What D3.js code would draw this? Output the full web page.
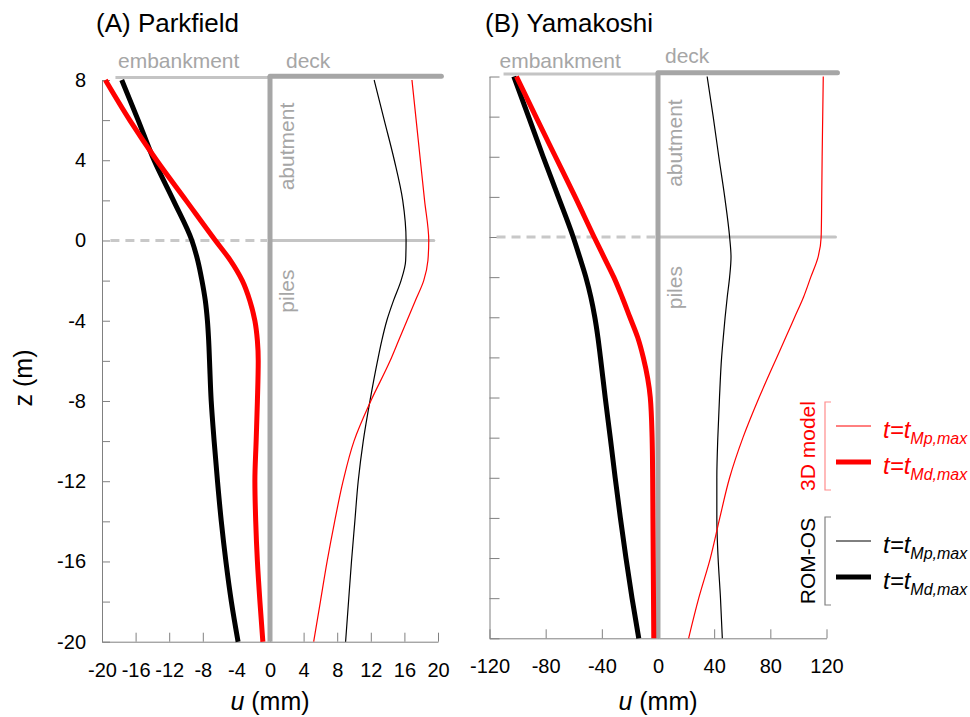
<!DOCTYPE html>
<html>
<head>
<meta charset="utf-8">
<script src="https://cdn.jsdelivr.net/npm/d3@7"></script>
<style>
body { margin: 0; background: #fff; }
svg { display: block; font-family: Arial, "Liberation Sans", sans-serif; }
.axis path, .axis line { stroke: #808080; stroke-width: 1; }
.axis text { font-size: 20px; fill: #000; font-family: Arial, "Liberation Sans", sans-serif; }
.struct-label { font-size: 21px; fill: #a6a6a6; }
</style>
</head>
<body>
<svg id="chart" width="970" height="717"></svg>
<script>
// depth below deck level (m), shared by all profiles
var depth = [8, 6, 4, 2, 0, -1, -2, -3, -4, -5, -6, -8, -10, -12, -14, -16, -18, -20];

// (A) Parkfield, u in mm
var parkRomMp = [12.4, 13.6, 14.8, 15.8, 16.2, 16.15, 15.6, 14.7, 13.9, 13.3, 12.8, 11.9, 11.1, 10.5, 10.1, 9.7, 9.35, 9.0];
var parkRomMd = [-17.65, -15.7, -13.8, -11.5, -9.3, -8.6, -8.1, -7.7, -7.45, -7.3, -7.2, -7.0, -6.65, -6.25, -5.8, -5.25, -4.6, -3.8];
var park3dMp = [16.9, 17.4, 17.9, 18.4, 18.9, 18.8, 18.3, 17.3, 16.3, 15.3, 14.3, 12.0, 10.0, 8.7, 7.7, 6.8, 6.0, 5.2];
var park3dMd = [-19.6, -16.7, -13.5, -10.0, -6.5, -4.7, -3.3, -2.4, -1.8, -1.5, -1.4, -1.5, -1.65, -1.8, -1.7, -1.5, -1.2, -0.85];

// (B) Yamakoshi, u in mm
var yamaRomMp = [35, 39.3, 43.3, 47.5, 51, 52, 51, 49.3, 47.8, 46.5, 45.3, 43.8, 42.6, 41.9, 41.9, 42.8, 44.5, 45.8];
var yamaRomMd = [-102.7, -92.2, -81.8, -71, -60.4, -55.8, -51.4, -47.8, -45, -42.8, -41, -37.6, -34, -30.5, -26.8, -22.8, -18.5, -13.7];
var yama3dMp = [117.7, 117.3, 116.9, 116.6, 116.2, 114, 108.8, 103.6, 97.3, 91, 84.6, 72, 60.5, 51, 44, 37.3, 29, 21.8];
var yama3dMd = [-100.8, -87, -73, -59, -45.5, -38.5, -31.5, -25.5, -20, -14.5, -10.5, -5.5, -4.2, -3.8, -3.6, -3.4, -3.2, -3.0];

var titles = ["(A) Parkfield", "(B) Yamakoshi"];
var xTicksA = [-20, -16, -12, -8, -4, 0, 4, 8, 12, 16, 20];
var xTicksB = [-120, -80, -40, 0, 40, 80, 120];
var zTicks = [-20, -18, -16, -14, -12, -10, -8, -6, -4, -2, 0, 2, 4, 6, 8];

var legendGroups = ["3D model", "ROM-OS"];
var legendSubs = ["Mp,max", "Md,max"];

var svg = d3.select("#chart");

var panels = [
    { title: titles[0], xDomain: [-20, 20], xTicks: xTicksA, x0: 102, x1: 438, y0: 80, y1: 641.7,
      series: [parkRomMp, park3dMp, parkRomMd, park3dMd], labels: true, titleX: 96,
      embStart: -18.4, deckEnd: 20.4, zeroEnd: 19.5, dashStart: -19, embText: -18.1, deckText: 16, deckTextY: 68, tick: 8 },
    { title: titles[1], xDomain: [-120, 120], xTicks: xTicksB, x0: 489.5, x1: 826.5, y0: 76.5, y1: 638.3,
      series: [yamaRomMp, yama3dMp, yamaRomMd, yama3dMd], labels: false, titleX: 485,
      embStart: -110, deckEnd: 127.8, zeroEnd: 126.4, dashStart: -115, embText: -112.9, deckText: 7, deckTextY: 63, tick: 10 }
];

var styles = [
    { color: "#000", width: 1.2 },
    { color: "#ff0000", width: 1.2 },
    { color: "#000", width: 5 },
    { color: "#ff0000", width: 5 }
];

panels.forEach(function(p) {
    var x = d3.scaleLinear().domain(p.xDomain).range([p.x0, p.x1]);
    var y = d3.scaleLinear().domain([-20, 8]).range([p.y1, p.y0]);
    var g = svg.append("g");

    // title
    svg.append("text")
        .attr("x", p.titleX)
        .attr("y", 32)
        .style("font-size", "26px")
        .text(p.title);

    // axes
    g.append("g")
        .attr("class", "axis")
        .attr("transform", "translate(" + p.x0 + ",0)")
        .call(d3.axisLeft(y).tickValues(zTicks).tickSize(-p.tick).tickSizeOuter(0).tickPadding(16)
            .tickFormat(function(d) { return p.labels && d % 4 === 0 ? String(d) : ""; }));

    g.append("g")
        .attr("class", "axis")
        .attr("transform", "translate(0," + p.y1 + ")")
        .call(d3.axisBottom(x).tickValues(p.xTicks).tickSize(-9).tickSizeOuter(0).tickPadding(21)
            .tickFormat(function(d) { return String(d); }));

    var ux = svg.append("text")
        .attr("x", x(0))
        .attr("y", 710)
        .attr("text-anchor", "middle")
        .style("font-size", "25px");
    ux.append("tspan").style("font-style", "italic").text("u");
    ux.append("tspan").text(" (mm)");

    // structure: embankment, deck, abutment, ground level
    var zEmb = 8.13, zDeck = 8.19;
    g.append("line")
        .attr("x1", x(p.embStart)).attr("x2", x(0))
        .attr("y1", y(zEmb)).attr("y2", y(zEmb))
        .attr("stroke", "#c4c4c4").attr("stroke-width", 3);
    g.append("line")
        .attr("x1", x(p.dashStart)).attr("x2", x(0) - 3)
        .attr("y1", y(0)).attr("y2", y(0))
        .attr("stroke", "#c8c8c8").attr("stroke-width", 3)
        .attr("stroke-dasharray", "9,6");
    g.append("line")
        .attr("x1", x(0)).attr("x2", x(p.zeroEnd))
        .attr("y1", y(0)).attr("y2", y(0))
        .attr("stroke", "#c4c4c4").attr("stroke-width", 3)
        .attr("stroke-linecap", "round");
    g.append("line")
        .attr("x1", x(0)).attr("x2", x(p.deckEnd))
        .attr("y1", y(zDeck)).attr("y2", y(zDeck))
        .attr("stroke", "#a6a6a6").attr("stroke-width", 5)
        .attr("stroke-linecap", "round");
    g.append("line")
        .attr("x1", x(0)).attr("x2", x(0))
        .attr("y1", y(zDeck)).attr("y2", p.y1)
        .attr("stroke", "#a6a6a6").attr("stroke-width", 5);

    g.append("text").attr("class", "struct-label")
        .attr("x", x(p.embText)).attr("y", 68)
        .text("embankment");
    g.append("text").attr("class", "struct-label")
        .attr("x", x(0) + p.deckText).attr("y", p.deckTextY)
        .text("deck");
    g.append("text").attr("class", "struct-label")
        .attr("transform", "translate(" + (x(0) + 24) + "," + y(2.5) + ") rotate(-90)")
        .text("abutment");
    g.append("text").attr("class", "struct-label")
        .attr("transform", "translate(" + (x(0) + 24) + "," + y(-3.6) + ") rotate(-90)")
        .text("piles");

    // profiles
    var line = d3.line()
        .x(function(d) { return x(d[0]); })
        .y(function(d) { return y(d[1]); })
        .curve(d3.curveMonotoneY);

    p.series.forEach(function(vals, i) {
        g.append("path")
            .datum(vals.map(function(v, k) { return [v, depth[k]]; }))
            .attr("fill", "none")
            .attr("stroke", styles[i].color)
            .attr("stroke-width", styles[i].width)
            .attr("stroke-linejoin", "round")
            .attr("d", line);
    });
});

// y axis title
svg.append("text")
    .attr("transform", "translate(32,378) rotate(-90)")
    .attr("text-anchor", "middle")
    .style("font-size", "25px")
    .text("z (m)");

// legend
var legend = svg.append("g");
var groupTop = [402, 517];
var groupColor = ["#ff0000", "#000"];
var bracketColor = ["#ff8c8c", "#808080"];
var rowOffsets = [24, 60];

legendGroups.forEach(function(name, gi) {
    var top = groupTop[gi];
    var bottom = top + 88;
    legend.append("path")
        .attr("d", "M831," + top + "H825V" + bottom + "H831")
        .attr("fill", "none")
        .attr("stroke", bracketColor[gi])
        .attr("stroke-width", 1.2);
    legend.append("text")
        .attr("transform", "translate(815," + (top + 44) + ") rotate(-90)")
        .attr("text-anchor", "middle")
        .attr("fill", groupColor[gi])
        .style("font-size", "21px")
        .text(name);

    legendSubs.forEach(function(sub, ri) {
        var ly = top + rowOffsets[ri];
        legend.append("line")
            .attr("x1", 836).attr("x2", 871)
            .attr("y1", ly).attr("y2", ly)
            .attr("stroke", groupColor[gi])
            .attr("stroke-width", ri === 0 ? 1 : 5);
        var t = legend.append("text")
            .attr("x", 883)
            .attr("y", ly + 12)
            .attr("fill", groupColor[gi])
            .style("font-size", "24px")
            .style("font-style", "italic");
        t.append("tspan").text("t=t");
        t.append("tspan").attr("dy", 6).style("font-size", "16px").text(sub);
    });
});
</script>
</body>
</html>
